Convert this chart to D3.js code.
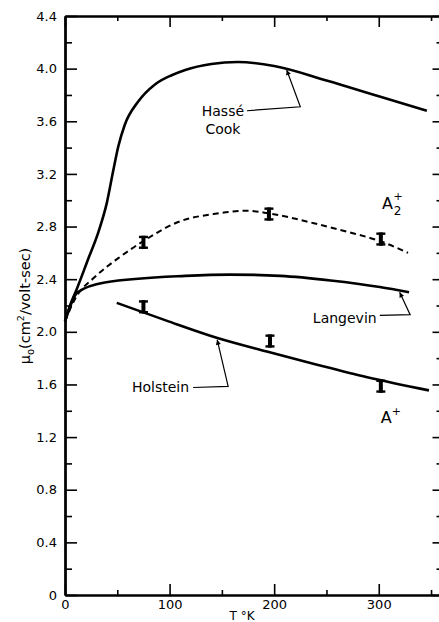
<!DOCTYPE html>
<html>
<head>
<meta charset="utf-8">
<script src="https://cdn.jsdelivr.net/npm/d3@7"></script>
<style>
body { margin: 0; background: #fff; }
svg { display: block; font-family: "DejaVu Sans", sans-serif; }
</style>
</head>
<body>
<svg id="chart" width="439" height="622"></svg>
<script>
// values (T in K, mu0 in cm2/volt-sec)
var hasseT  = [0, 4.8, 11, 22, 32, 40, 46, 51, 57, 70, 86, 102, 115, 140, 165, 200, 250, 300, 346];
var hasseMu = [2.08, 2.20, 2.32, 2.55, 2.76, 2.98, 3.22, 3.41, 3.57, 3.75, 3.88, 3.95, 3.99, 4.035, 4.05, 4.02, 3.91, 3.79, 3.68];

var dashT  = [0, 9.6, 29, 51, 75, 110, 142, 174, 195, 238, 270, 301, 328];
var dashMu = [2.08, 2.25, 2.42, 2.56, 2.69, 2.84, 2.895, 2.92, 2.90, 2.825, 2.76, 2.69, 2.60];

var langT  = [0, 12, 38, 115, 158, 206, 254, 301, 329];
var langMu = [2.08, 2.30, 2.375, 2.425, 2.435, 2.425, 2.39, 2.34, 2.30];

var holT  = [49.5, 97, 145, 193, 241, 289, 348];
var holMu = [2.22, 2.085, 1.955, 1.85, 1.75, 1.655, 1.555];

// measured points
var a2T  = [75, 195, 302];
var a2Mu = [2.68, 2.895, 2.705];
var a1T  = [75, 196, 302];
var a1Mu = [2.19, 1.93, 1.587];
var errHalf = 0.05;

var xMajor = [0, 100, 200, 300];
var xLabels = ["0", "100", "200", "300"];
var xMinor = [50, 150, 250, 350];
var yMajor = [0, 0.4, 0.8, 1.2, 1.6, 2.0, 2.4, 2.8, 3.2, 3.6, 4.0, 4.4];
var yLabels = ["0", "0.4", "0.8", "1.2", "1.6", "2.0", "2.4", "2.8", "3.2", "3.6", "4.0", "4.4"];
var yMinor = [0.2, 0.6, 1.0, 1.4, 1.8, 2.2, 2.6, 3.0, 3.4, 3.8, 4.2];

var svg = d3.select("#chart");

var x = d3.scaleLinear().domain([0, 360]).range([65, 441.5]);
var y = d3.scaleLinear().domain([0, 4.4]).range([595, 16]);

function styleAxis(g) {
  g.attr("font-family", null).attr("font-size", null);
  g.select(".domain").attr("stroke", "#000").attr("stroke-width", 2);
  g.selectAll(".tick line").attr("stroke", "#000").attr("stroke-width", 1.6);
  g.selectAll(".tick text").attr("fill", "#000").style("font-size", "13px");
}

// bottom
svg.append("g")
    .attr("transform", "translate(0," + y(0) + ")")
    .call(d3.axisBottom(x).tickValues(xMajor).tickSize(-11).tickSizeOuter(0).tickPadding(5)
      .tickFormat(function(d, i) { return xLabels[i]; }))
    .call(styleAxis);
svg.append("g")
    .attr("transform", "translate(0," + y(0) + ")")
    .call(d3.axisBottom(x).tickValues(xMinor).tickSize(-5).tickSizeOuter(0).tickFormat(""))
    .call(styleAxis);

// top
svg.append("g")
    .attr("transform", "translate(0," + y(4.4) + ")")
    .call(d3.axisTop(x).tickValues(xMajor).tickSize(-11).tickSizeOuter(0).tickFormat(""))
    .call(styleAxis);
svg.append("g")
    .attr("transform", "translate(0," + y(4.4) + ")")
    .call(d3.axisTop(x).tickValues(xMinor).tickSize(-5).tickSizeOuter(0).tickFormat(""))
    .call(styleAxis);

// left
svg.append("g")
    .attr("transform", "translate(" + x(0) + ",0)")
    .call(d3.axisLeft(y).tickValues(yMajor).tickSize(-12).tickSizeOuter(0).tickPadding(8)
      .tickFormat(function(d, i) { return yLabels[i]; }))
    .call(styleAxis)
    .call(function(g) { g.select(".domain").attr("stroke-width", 2.5); });
svg.append("g")
    .attr("transform", "translate(" + x(0) + ",0)")
    .call(d3.axisLeft(y).tickValues(yMinor).tickSize(-7).tickSizeOuter(0).tickFormat(""))
    .call(styleAxis);

// right
svg.append("g")
    .attr("transform", "translate(" + x(360) + ",0)")
    .call(d3.axisRight(y).tickValues(yMajor).tickSize(-9).tickSizeOuter(0).tickFormat(""))
    .call(styleAxis);
svg.append("g")
    .attr("transform", "translate(" + x(360) + ",0)")
    .call(d3.axisRight(y).tickValues(yMinor).tickSize(-5).tickSizeOuter(0).tickFormat(""))
    .call(styleAxis);

// curves
var line = d3.line()
    .x(function(d) { return x(d[0]); })
    .y(function(d) { return y(d[1]); })
    .curve(d3.curveMonotoneX);

function pts(ts, ms) { return ts.map(function(t, i) { return [t, ms[i]]; }); }

svg.append("path").datum(pts(hasseT, hasseMu))
    .attr("d", line).attr("fill", "none").attr("stroke", "#000").attr("stroke-width", 2.6);
svg.append("path").datum(pts(dashT, dashMu))
    .attr("d", line).attr("fill", "none").attr("stroke", "#000").attr("stroke-width", 2)
    .attr("stroke-dasharray", "6,4");
svg.append("path").datum(pts(langT, langMu))
    .attr("d", line).attr("fill", "none").attr("stroke", "#000").attr("stroke-width", 2.6);
svg.append("path").datum(pts(holT, holMu))
    .attr("d", line).attr("fill", "none").attr("stroke", "#000").attr("stroke-width", 2.6);

// error bars
function errBars(ts, ms) {
  var g = svg.append("g");
  ts.forEach(function(t, i) {
    var cx = x(t), y0 = y(ms[i] + errHalf), y1 = y(ms[i] - errHalf);
    g.append("rect").attr("x", cx - 2).attr("y", y0).attr("width", 4).attr("height", y1 - y0).attr("fill", "#000");
    g.append("rect").attr("x", cx - 4.5).attr("y", y0).attr("width", 9).attr("height", 2.4).attr("fill", "#000");
    g.append("rect").attr("x", cx - 4.5).attr("y", y1 - 2.4).attr("width", 9).attr("height", 2.4).attr("fill", "#000");
  });
}
errBars(a2T, a2Mu);
errBars(a1T, a1Mu);

// leaders
svg.append("defs").append("marker")
    .attr("id", "arr").attr("viewBox", "0 0 10 10")
    .attr("refX", 10).attr("refY", 5)
    .attr("markerWidth", 7).attr("markerHeight", 5)
    .attr("markerUnits", "userSpaceOnUse").attr("orient", "auto")
  .append("path").attr("d", "M0,0 L10,5 L0,10 z").attr("fill", "#000");

var leaders = [
  [[174, 3.68], [225, 3.71], [212, 3.99]],
  [[301, 2.125], [330, 2.13], [320, 2.30]],
  [[122.5, 1.577], [156, 1.585], [145.5, 1.94]]
];
var plain = d3.line().x(function(d) { return x(d[0]); }).y(function(d) { return y(d[1]); });
leaders.forEach(function(l) {
  svg.append("path").datum(l).attr("d", plain).attr("fill", "none")
      .attr("stroke", "#000").attr("stroke-width", 1.2).attr("marker-end", "url(#arr)");
});

// labels
function label(txt, t, m, anchor) {
  return svg.append("text").attr("x", x(t)).attr("y", y(m))
      .attr("text-anchor", anchor || "start").style("font-size", "14px").text(txt);
}
label("Hassé", 151, 3.64, "middle");
label("Cook", 151, 3.50, "middle");
label("Langevin", 237, 2.07);
label("Holstein", 64, 1.54);

var a2 = svg.append("text").attr("x", x(303)).attr("y", y(2.93)).style("font-size", "16px").text("A");
a2.append("tspan").attr("dx", 1).attr("dy", 6).style("font-size", "12px").text("2");
a2.append("tspan").attr("dx", -8).attr("dy", -15).style("font-size", "11px").text("+");

var a1 = svg.append("text").attr("x", x(302)).attr("y", y(1.31)).style("font-size", "16px").text("A");
a1.append("tspan").attr("dx", 0).attr("dy", -8).style("font-size", "11px").text("+");

// axis titles
svg.append("text").attr("x", 242).attr("y", 619.5).attr("text-anchor", "middle")
    .style("font-size", "12px").text("T °K");

var yt = svg.append("text").attr("transform", "translate(30,306) rotate(-90)")
    .attr("text-anchor", "middle").style("font-size", "14.5px");
yt.append("tspan").text("μ");
yt.append("tspan").attr("dy", 4).style("font-size", "10px").text("o");
yt.append("tspan").attr("dy", -4).text("(cm");
yt.append("tspan").attr("dy", -6).style("font-size", "9.5px").text("2");
yt.append("tspan").attr("dy", 6).text("/volt-sec)");
</script>
</body>
</html>
